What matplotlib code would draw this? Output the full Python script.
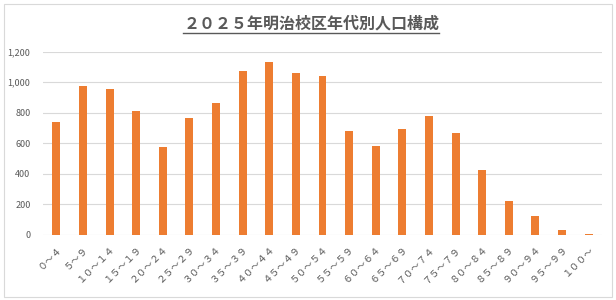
import matplotlib
matplotlib.use("Agg")
from matplotlib import pyplot as plt
from matplotlib.patches import Rectangle
from matplotlib.lines import Line2D
from matplotlib.ticker import FuncFormatter
import numpy as np

plt.rcParams['font.family'] = ['Noto Sans CJK JP', 'DejaVu Sans']

title = "２０２５年明治校区年代別人口構成"
age_groups = ["０～４", "５～９", "１０～１４", "１５～１９", "２０～２４", "２５～２９",
              "３０～３４", "３５～３９", "４０～４４", "４５～４９", "５０～５４", "５５～５９",
              "６０～６４", "６５～６９", "７０～７４", "７５～７９", "８０～８４", "８５～８９",
              "９０～９４", "９５～９９", "１００～"]
population = [740, 975, 956, 812, 576, 766, 864, 1073, 1132, 1060, 1041, 681,
              583, 694, 779, 668, 425, 223, 127, 33, 9]

bar_color = "#ed7d31"
text_color = "#595959"
grid_color = "#d9d9d9"

fig = plt.figure(figsize=(6.16, 3.0), dpi=100)
fig.patch.set_facecolor("white")

# chart frame
fig.patches.append(Rectangle((4 / 616, 3 / 300), 608 / 616, 293 / 300,
                             transform=fig.transFigure, fill=False,
                             edgecolor=grid_color, linewidth=0.8))

ax = fig.add_axes([43 / 616, 65 / 300, 559 / 616, 183.3 / 300])
x = np.arange(len(age_groups))
ax.bar(x, population, width=0.3, color=bar_color, zorder=3)

ax.set_xlim(-0.5, len(age_groups) - 0.5)
ax.set_ylim(0, 1200)
ax.set_yticks(range(0, 1201, 200))
ax.yaxis.set_major_formatter(FuncFormatter(lambda v, p: f"{int(v):,}"))
ax.grid(axis="y", color=grid_color, linewidth=0.8, zorder=0)
for s in ax.spines.values():
    s.set_visible(False)
ax.tick_params(axis="y", length=0, pad=9, labelsize=6.5, labelcolor=text_color)
ax.tick_params(axis="x", length=0, pad=6, labelsize=7, labelcolor=text_color)
ax.set_xticks(x)
ax.set_xticklabels(age_groups, rotation=45, ha="right", rotation_mode="anchor")

t = fig.text(0.505, 1 - 23.5 / 300, title, ha="center", va="center", fontsize=11.5,
             fontweight="bold", color=text_color)

# underline the title
fig.canvas.draw()
bb = t.get_window_extent().transformed(fig.transFigure.inverted())
uy = 1 - 32.5 / 300
fig.lines.append(Line2D([bb.x0, bb.x1], [uy, uy],
                        transform=fig.transFigure, color=text_color, linewidth=1.0))

fig.savefig("out.png", dpi=100)
